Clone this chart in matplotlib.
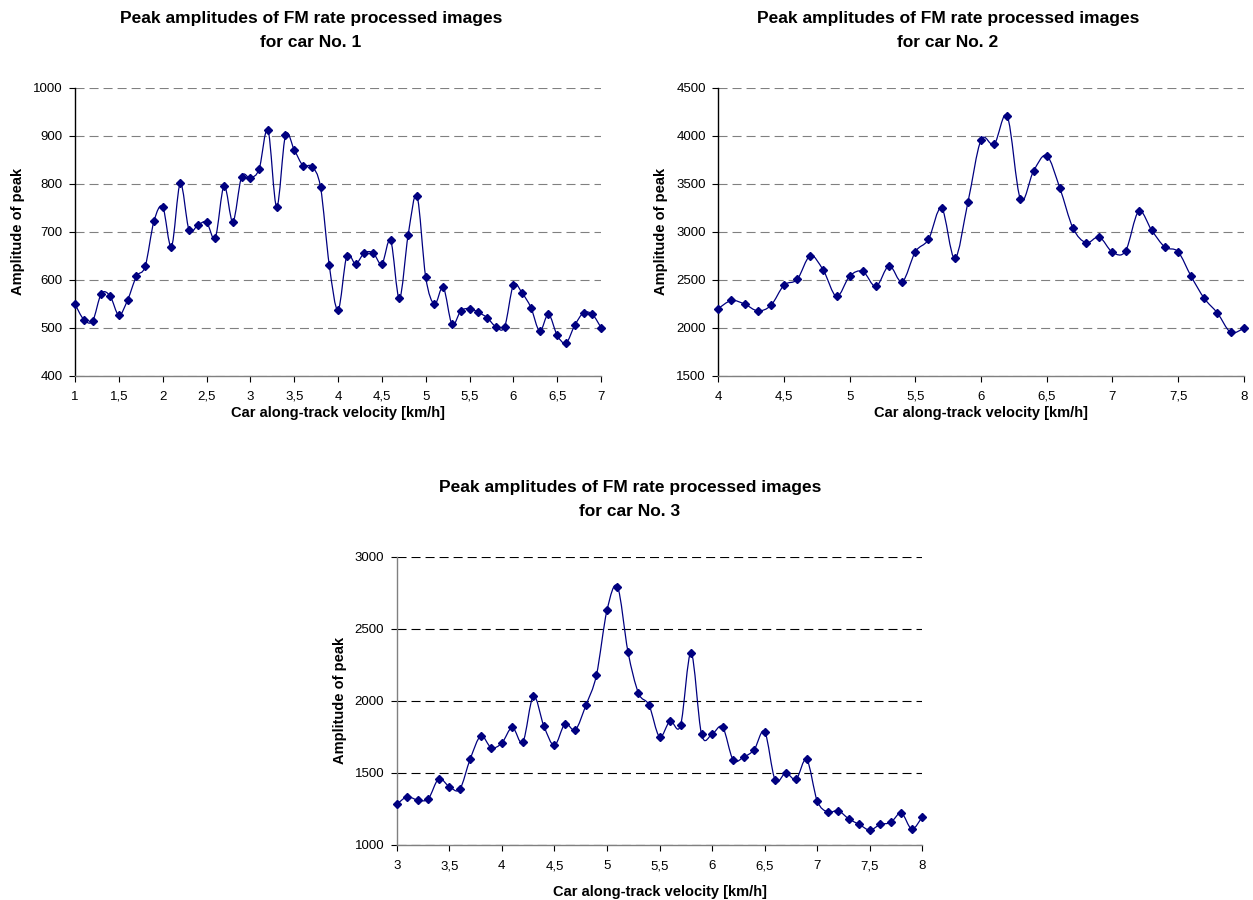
import numpy as np
import matplotlib
matplotlib.use("Agg")
import matplotlib.pyplot as plt
from matplotlib.path import Path
from matplotlib.patches import PathPatch
from matplotlib.ticker import FuncFormatter, MultipleLocator

plt.rcParams["font.family"] = ["Liberation Sans", "DejaVu Sans"]
plt.rcParams["lines.scale_dashes"] = False

# ── Data ─────────────────────────────────────────────────────
car1_v = np.round(np.arange(1.0, 7.0001, 0.1), 1)
car1_amp = [549, 517, 514, 571, 566, 526, 558, 607, 628, 722,
            752, 669, 801, 704, 714, 720, 688, 796, 721, 815,
            812, 831, 913, 752, 901, 871, 838, 836, 793, 630,
            537, 650, 633, 656, 656, 633, 682, 561, 694, 775,
            605, 549, 584, 507, 535, 540, 532, 521, 502, 502,
            589, 572, 542, 493, 528, 484, 468, 505, 531, 528,
            500]

car2_v = np.round(np.arange(4.0, 8.0001, 0.1), 1)
car2_amp = [2200, 2284, 2246, 2176, 2232, 2444, 2503, 2750, 2597, 2326,
            2538, 2587, 2430, 2646, 2479, 2792, 2921, 3248, 2722, 3307,
            3957, 3912, 4204, 3341, 3634, 3794, 3456, 3039, 2886, 2945,
            2788, 2799, 3213, 3014, 2840, 2792, 2534, 2305, 2152, 1953,
            1992]

car3_v = np.round(np.arange(3.0, 8.0001, 0.1), 1)
car3_amp = [1280, 1333, 1310, 1319, 1458, 1403, 1386, 1597, 1755, 1674,
            1706, 1815, 1713, 2032, 1824, 1690, 1838, 1799, 1970, 2178,
            2627, 2792, 2340, 2053, 1970, 1750, 1859, 1829, 2333, 1766,
            1768, 1817, 1590, 1609, 1660, 1785, 1449, 1498, 1456, 1592,
            1305, 1227, 1236, 1180, 1141, 1102, 1141, 1155, 1220, 1109,
            1194]

TITLE_1 = "Peak amplitudes of FM rate processed images"
TITLE_2 = "for car No. {}"
XLABEL = "Car along-track velocity [km/h]"
YLABEL = "Amplitude of peak"
NAVY = "#000080"
H = 900.0


def smooth_path(x, y):
    # Excel-style smoothed line: Catmull-Rom segments as cubic Beziers
    x = np.asarray(x, float)
    y = np.asarray(y, float)
    n = len(x)
    verts = [(x[0], y[0])]
    codes = [Path.MOVETO]
    for i in range(n - 1):
        p0 = max(i - 1, 0)
        p3 = min(i + 2, n - 1)
        c1 = (x[i] + (x[i + 1] - x[p0]) / 6, y[i] + (y[i + 1] - y[p0]) / 6)
        c2 = (x[i + 1] - (x[p3] - x[i]) / 6, y[i + 1] - (y[p3] - y[i]) / 6)
        verts += [c1, c2, (x[i + 1], y[i + 1])]
        codes += [Path.CURVE4] * 3
    return Path(verts, codes)


def draw(fig, rect, x, y, ylim, ystep, num, grid_color, spine_color,
         title_x, title_base, ylabel_x, xlabelpad):
    ax = fig.add_axes(rect)
    ax.add_patch(PathPatch(smooth_path(x, y), fill=False, edgecolor=NAVY,
                           linewidth=0.9, clip_on=False))
    ax.plot(x, y, linestyle="none", marker="D", markersize=4.5,
            color=NAVY, clip_on=False, zorder=3)
    ax.set_xlim(x[0], x[-1])
    ax.set_ylim(*ylim)
    ax.xaxis.set_major_locator(MultipleLocator(0.5))
    ax.yaxis.set_major_locator(MultipleLocator(ystep))
    ax.xaxis.set_major_formatter(
        FuncFormatter(lambda v, p: f"{v:g}".replace(".", ",")))
    ax.yaxis.set_major_formatter(FuncFormatter(lambda v, p: f"{v:g}"))
    for s in ("top", "right"):
        ax.spines[s].set_visible(False)
    ax.spines["left"].set_color(spine_color)
    ax.spines["bottom"].set_color("#808080")
    for s in ("left", "bottom"):
        ax.spines[s].set_linewidth(1.0)
    ax.tick_params(direction="out", length=4, width=0.8, colors="#000000",
                   labelsize=9.5, pad=5)
    ax.tick_params(axis="x", pad=7)
    ax.yaxis.grid(True, linestyle=(0, (6.5, 3.6)), color=grid_color,
                  linewidth=0.8)
    ax.set_axisbelow(True)
    ax.set_xlabel(XLABEL, fontsize=10.5, fontweight="bold",
                  labelpad=xlabelpad)
    fig.text(ylabel_x, rect[1] + rect[3] / 2, YLABEL, rotation=90,
             ha="center", va="center", fontsize=10.5, fontweight="bold")
    fig.text(title_x, 1 - title_base / H, TITLE_1, ha="center",
             va="baseline", fontsize=12.5, fontweight="bold")
    fig.text(title_x, 1 - (title_base + 24) / H, TITLE_2.format(num),
             ha="center", va="baseline", fontsize=12.5, fontweight="bold")
    return ax


fig = plt.figure(figsize=(12.53, 9.0), dpi=100)

draw(fig, [0.0599, 0.5826, 0.4198, 0.3197], car1_v, car1_amp, (400, 1000),
     100, 1, "#808080", "#000000", 0.2482, 23.3, 0.0145, 2.0)
draw(fig, [0.5733, 0.5826, 0.4193, 0.3197], car2_v, car2_amp, (1500, 4500),
     500, 2, "#808080", "#000000", 0.7566, 23.3, 0.5275, 2.0)
draw(fig, [0.3166, 0.0614, 0.4195, 0.3200], car3_v, car3_amp, (1000, 3000),
     500, 3, "#000000", "#808080", 0.5028, 492.0, 0.2715, 9.5)

fig.savefig("out.png", dpi=100)
